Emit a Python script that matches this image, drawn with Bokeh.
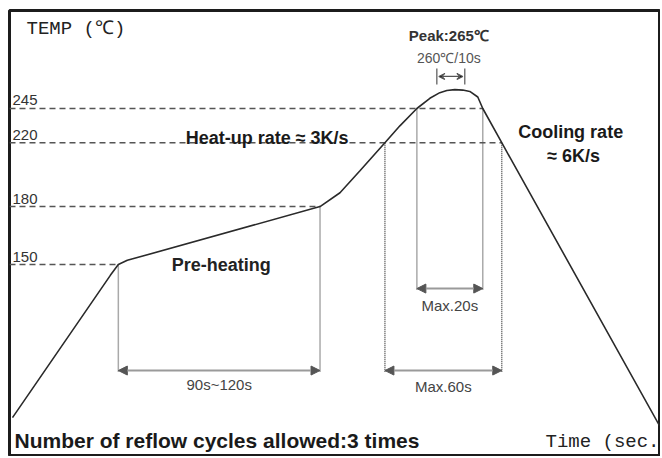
from bokeh.plotting import figure
from bokeh.models import Range1d, Arrow, NormalHead, VeeHead, Label, ColumnDataSource
from bokeh.core.properties import value
from bokeh.embed import file_html
from bokeh.resources import INLINE

# ---------------- data ----------------
# reflow profile: time (s, nominal) and temperature (degC)
profile_time = [1.5, 50.5, 54.5, 59, 155.5, 165.5, 175.5, 188, 195.5, 204,
                210.5, 215.5, 219, 223, 227, 230.5, 234.5, 237, 246.5, 325.5]
profile_temp = [92.7, 145, 150, 152, 180, 188, 201.5, 220, 232, 245,
                253, 257.5, 259.3, 260, 259.6, 258.5, 254, 245, 220, 90.4]

# reference temperature levels (dashed lines) and where they meet the curve
level_temp = [245, 220, 180, 150]
level_end_time = [237, 246.5, 155.5, 54.5]
level_labels = ["245", "220", "180", "150"]

# vertical guides
guide_time = [54.5, 155.5, 188, 246.5, 204, 237]
guide_top = [150, 180, 220, 220, 245, 245]

# duration spans
span_start = [54.5, 188, 204]
span_end = [155.5, 246.5, 237]
span_labels = ["90s~120s", "Max.60s", "Max.20s"]

# peak window (260 degC / 10 s)
peak_window = [214, 228]

# ---------------- layout positions (annotation placement) ----------------
guide_bottom = [106.8, 106.8, 106.8, 106.8, 138.2, 138.2]
span_y = [107.5, 107.5, 139.1]
span_label_y = [102.9, 102.2, 131.9]

SANS = "Liberation Sans"
MONO = "Liberation Mono"

p = figure(width=660, height=456, output_backend="svg", toolbar_location=None,
           x_range=Range1d(0, 326), y_range=Range1d(82.3, 333.4),
           y_axis_type="log", min_border_left=9, min_border_top=10,
           min_border_bottom=1, min_border_right=0)
p.xaxis.visible = False
p.yaxis.visible = False
p.xgrid.visible = False
p.ygrid.visible = False
p.outline_line_color = "#1c1c1c"
p.outline_line_width = 3
p.background_fill_color = "white"
p.border_fill_color = "white"

# dashed temperature levels
p.segment(x0=[0] * len(level_temp), x1=level_end_time, y0=level_temp, y1=level_temp,
          line_color="#555555", line_width=1.5, line_dash="6 4")

# vertical dotted guides
p.segment(x0=guide_time, x1=guide_time, y0=guide_top, y1=guide_bottom,
          line_color="#555555", line_width=1.5, line_dash="1 1")

# profile curve
p.line(profile_time, profile_temp, line_color="#2a2a2a", line_width=1.6)

# temperature level labels
src_lv = ColumnDataSource(dict(x=[1.5] * len(level_temp), y=level_temp, t=level_labels))
p.text(x="x", y="y", text="t", source=src_lv, text_font=value(SANS),
       text_font_size="15px", text_color="#333333", text_baseline="bottom",
       text_align="left", y_offset=-3)

# duration arrows
for s, e, yy in zip(span_start, span_end, span_y):
    p.add_layout(Arrow(x_start=s, x_end=e, y_start=yy, y_end=yy,
                       line_color="#9a9a9a", line_width=2,
                       start=NormalHead(size=9, fill_color="#555555", line_color="#555555"),
                       end=NormalHead(size=9, fill_color="#555555", line_color="#555555")))

src_sp = ColumnDataSource(dict(x=[(s + e) / 2 for s, e in zip(span_start, span_end)],
                               y=span_label_y, t=span_labels))
p.text(x="x", y="y", text="t", source=src_sp, text_font=value(SANS),
       text_font_size="15px", text_color="#444444", text_baseline="middle",
       text_align="center")

# peak window arrow with end ticks
p.add_layout(Arrow(x_start=peak_window[0] + 1, x_end=peak_window[1] - 1, y_start=271, y_end=271,
                   line_color="#555555", line_width=1.2,
                   start=VeeHead(size=6, line_color="#555555", line_width=1.2),
                   end=VeeHead(size=6, line_color="#555555", line_width=1.2)))
p.segment(x0=peak_window, x1=peak_window, y0=[264.2, 264.2], y1=[277.8, 277.8],
          line_color="#555555", line_width=1.2)

def label(x, y, text, size, bold=False, color="#1a1a1a", align="center", font=SANS):
    p.add_layout(Label(x=x, y=y, text=text, text_font=font, text_font_size=size,
                       text_font_style="bold" if bold else "normal",
                       text_color=color, text_align=align, text_baseline="middle"))

label(8.5, 315, "TEMP  (\u2103)", "19px", color="#222222", align="left", font=MONO)
label(220, 308, "Peak:265\u2103", "15px", bold=True, color="#333333")
label(220, 287.6, "260\u2103/10s", "14px", color="#555555")
label(129, 223.6, "Heat-up rate \u2248 3K/s", "18px", bold=True)
label(281, 227.9, "Cooling rate", "18px", bold=True)
label(282.5, 210.7, "\u2248 6K/s", "18px", bold=True)
label(106, 150, "Pre-heating", "18px", bold=True, color="#222222")
label(2.5, 86.3, "Number of reflow cycles allowed:3 times", "21px", bold=True, align="left")
label(325.5, 86, "Time (sec.", "19px", color="#222222", align="right", font=MONO)

open("out.html", "w").write(file_html(p, INLINE))
